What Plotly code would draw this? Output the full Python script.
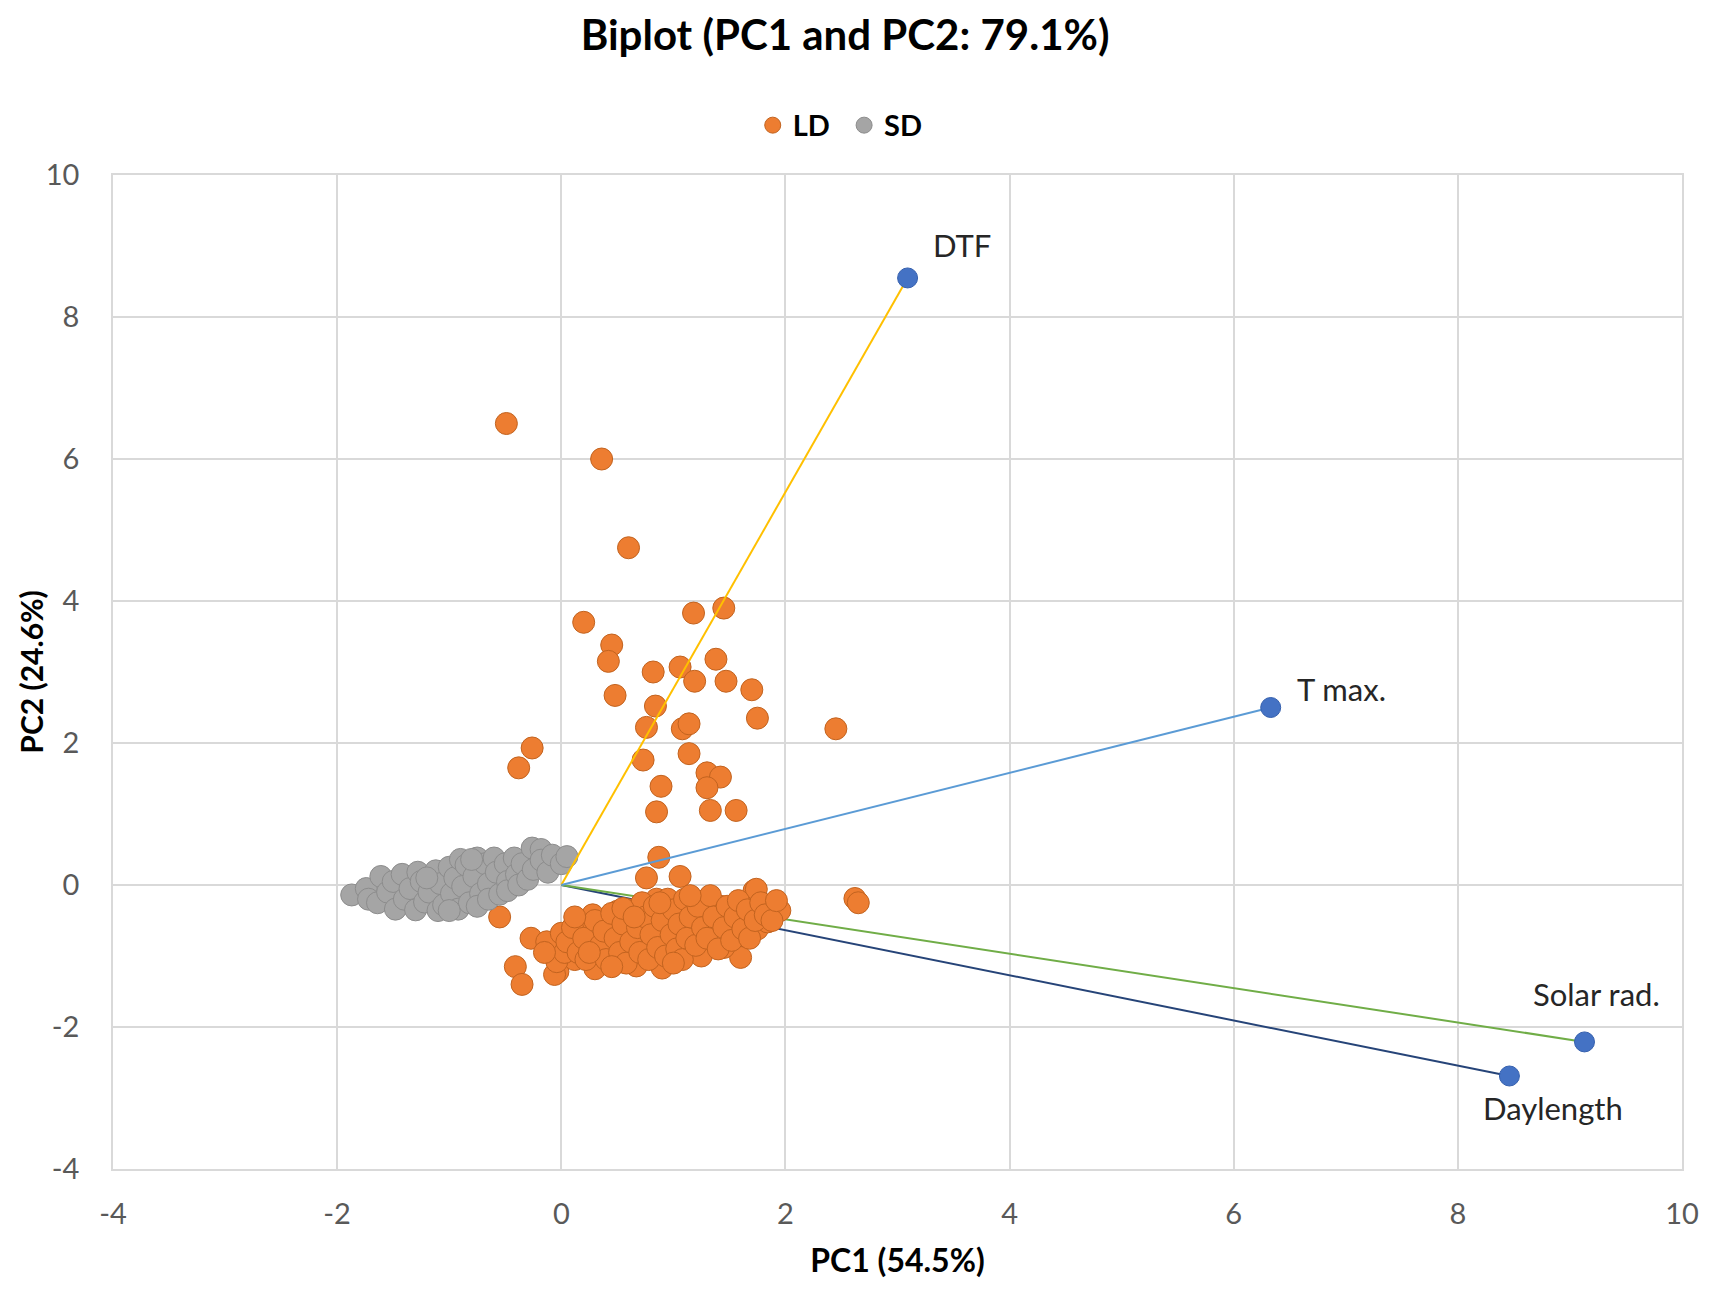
import plotly.graph_objects as go

# scores - long day (LD)
ld_x = [-0.49, 0.36, 0.60, 0.20, 0.45, 0.42, 0.48, 0.82, 1.06, 1.18, 1.45, 1.19, 1.38, 1.47, 1.70, 1.75,
        0.84, 0.76, 1.08, 1.14, 1.14, 0.73, 0.89, 0.85, 1.30, 1.42, 1.30, 1.33, 1.56, 2.45, -0.26, -0.38,
        0.87, 0.76, 1.06, 2.62, 2.65, -0.55, -0.27, -0.13, -0.41, -0.35,
        0.00, 0.17, 0.28, 0.50, 0.85, 1.30, 1.72, 1.88, 1.78, 1.42, -0.03, 0.12, 0.32, 0.65, 0.88, 1.18,
        1.25, 1.60, 1.75, -0.06, -0.04, 0.03, 0.30, 0.67, 0.90, 1.25, 1.45, 1.84, 1.95, 1.74,
        0.05, 0.10, 0.15, 0.20, 0.22, 0.30, 0.35, 0.38, 0.40, 0.45, 0.48, 0.52, 0.55, 0.58, 0.60, 0.62,
        0.68, 0.70, 0.72, 0.75, 0.78, 0.80, 0.83, 0.86, 0.90, 0.93, 0.95, 0.98, 1.00, 1.03, 1.05, 1.08,
        1.10, 1.12, 1.15, 1.20, 1.22, 1.26, 1.30, 1.33, 1.36, 1.40, 1.45, 1.48, 1.52, 1.55, 1.58, 1.62,
        1.66, 1.68, 1.73, 1.78, 1.82, 1.88, 1.92, 0.25, 0.12, -0.15, 0.45, 1.00, 0.55, 1.15, 0.88, 0.65]
ld_y = [6.50, 6.00, 4.75, 3.70, 3.38, 3.15, 2.67, 3.00, 3.07, 3.83, 3.90, 2.87, 3.18, 2.87, 2.75, 2.35,
        2.52, 2.22, 2.20, 2.27, 1.85, 1.76, 1.39, 1.03, 1.58, 1.52, 1.37, 1.05, 1.05, 2.20, 1.93, 1.65,
        0.39, 0.10, 0.12, -0.19, -0.25, -0.45, -0.75, -0.80, -1.15, -1.40,
        -0.68, -0.50, -0.42, -0.37, -0.20, -0.20, -0.08, -0.38, -0.25, -0.30, -1.22, -1.05, -1.12, -1.06, -1.10, -0.90,
        -0.85, -1.02, -0.62, -1.26, -1.08, -0.95, -1.18, -1.14, -1.17, -1.00, -0.88, -0.52, -0.36, -0.06,
        -0.80, -0.60, -0.95, -0.75, -1.05, -0.50, -0.85, -0.65, -1.05, -0.40, -0.75, -0.95, -0.55, -1.10, -0.35, -0.80,
        -0.60, -0.95, -0.25, -0.45, -1.05, -0.70, -0.30, -0.88, -0.50, -1.00, -0.20, -0.70, -0.35, -0.90, -0.55, -1.05,
        -0.20, -0.75, -0.45, -0.85, -0.30, -0.60, -0.75, -0.15, -0.45, -0.90, -0.60, -0.30, -0.78, -0.45, -0.22, -0.62,
        -0.35, -0.75, -0.50, -0.25, -0.42, -0.50, -0.22, -0.95, -0.45, -0.95, -1.15, -1.10, -0.33, -0.15, -0.25, -0.45]

# scores - short day (SD)
sd_x = [-1.87, -1.74, -1.72, -1.61, -1.64, -1.55, -1.50, -1.48, -1.42, -1.40, -1.35, -1.30, -1.28, -1.25,
        -1.22, -1.18, -1.12, -1.10, -1.08, -1.05, -1.00, -0.98, -0.95, -0.92, -0.90, -0.88, -0.85, -0.82,
        -0.78, -0.75, -0.72, -0.75, -0.68, -0.65, -0.65, -0.60, -0.58, -0.55, -0.50, -0.48, -0.48, -0.42,
        -0.40, -0.38, -0.35, -0.30, -0.26, -0.25, -0.18, -0.18, -0.12, -0.08, 0.00, 0.05, -1.00, -1.20, -0.80]
sd_y = [-0.14, -0.05, -0.20, 0.12, -0.25, -0.10, 0.05, -0.34, 0.15, -0.20, -0.05, -0.35, 0.18, 0.05,
        -0.24, -0.10, 0.20, -0.36, 0.02, -0.28, 0.25, -0.12, 0.10, -0.34, 0.36, -0.02, 0.28, -0.25,
        0.12, 0.38, -0.12, -0.30, 0.30, 0.02, -0.20, 0.38, 0.18, -0.13, 0.30, 0.05, -0.08, 0.38,
        0.15, 0.00, 0.30, 0.08, 0.52, 0.22, 0.50, 0.35, 0.18, 0.42, 0.30, 0.40, -0.36, 0.10, 0.36]

# loadings (vectors)
var_names = ["DTF", "T max.", "Solar rad.", "Daylength"]
var_x = [3.09, 6.33, 9.13, 8.46]
var_y = [8.55, 2.50, -2.21, -2.69]
var_colors = ["#FFC000", "#5B9BD5", "#70AD47", "#264478"]

tick_vals = [-4, -2, 0, 2, 4, 6, 8, 10]
tick_text = ["-4", "-2", "0", "2", "4", "6", "8", "10"]

FONT = "Lato"
GRID = "#D9D9D9"
fig = go.Figure()


def add_vector(i):
    fig.add_trace(go.Scatter(x=[0, var_x[i]], y=[0, var_y[i]], mode="lines",
                             line=dict(color=var_colors[i], width=2), showlegend=False, hoverinfo="skip"))


# daylength / solar rad lines sit under the points
add_vector(3)
add_vector(2)

fig.add_trace(go.Scatter(x=ld_x, y=ld_y, mode="markers", name="<b>LD</b>&nbsp;&#8202;",
                         marker=dict(size=22, color="#ED7D31", line=dict(color="#C2631F", width=1))))
fig.add_trace(go.Scatter(x=sd_x, y=sd_y, mode="markers", name="<b>SD</b>",
                         marker=dict(size=22, color="#A5A5A5", line=dict(color="#8C8C8C", width=1))))

add_vector(0)
add_vector(1)

fig.add_trace(go.Scatter(x=var_x, y=var_y, mode="markers", showlegend=False,
                         marker=dict(size=20, color="#4472C4", line=dict(color="#3560AE", width=1))))

label_pos = [("left", "middle", 23, 33), ("left", "middle", 24, 19),
             ("center", "middle", 12, 48), ("center", "middle", 44, -32)]
for i, n in enumerate(var_names):
    xa, ya, dx, dy = label_pos[i]
    fig.add_annotation(x=var_x[i], y=var_y[i], text=n, showarrow=False, xanchor=xa, yanchor=ya,
                       xshift=dx, yshift=dy, font=dict(family=FONT, size=31, color="#262626"))

# y axis title, placed by hand so it can sit closer to the edge than the margin allows
fig.add_annotation(text="<b>PC2 (24.6%)</b>", xref="paper", yref="paper", x=-0.0525, y=0.5,
                   xanchor="center", yanchor="middle", textangle=-90, showarrow=False,
                   font=dict(family=FONT, size=30, color="#000000"))

fig.update_layout(
    width=1700, height=1278,
    margin=dict(l=105, r=26, t=167, b=117),
    paper_bgcolor="white", plot_bgcolor="white",
    title=dict(text="<b>Biplot (PC1 and PC2: 79.1%)</b>", x=0.4924, xanchor="center",
               y=1 - 27 / 1278, yanchor="middle", font=dict(family=FONT, size=42, color="#000000")),
    legend=dict(orientation="h", x=0.4635, xanchor="center", y=1.05, yanchor="middle",
                font=dict(family=FONT, size=29, color="#000000"), itemsizing="trace",
                itemwidth=30),
    showlegend=True,
    font=dict(family=FONT),
)

fig.update_xaxes(range=[-4, 10], tickvals=tick_vals, ticktext=tick_text, showgrid=True, automargin=False,
                 gridcolor=GRID, gridwidth=1.5, showline=True, mirror=True, linecolor=GRID, linewidth=1.5,
                 zeroline=False, ticks="", ticklabelstandoff=18,
                 tickfont=dict(family=FONT, size=29, color="#595959"),
                 title=dict(text="<b>PC1 (54.5%)</b>", font=dict(family=FONT, size=32, color="#000000"),
                            standoff=21))
fig.update_yaxes(range=[-4, 10], tickvals=tick_vals, ticktext=tick_text, showgrid=True, automargin=False,
                 gridcolor=GRID, gridwidth=1.5, showline=True, mirror=True, linecolor=GRID, linewidth=1.5,
                 zeroline=False, ticks="", ticklabelstandoff=26,
                 tickfont=dict(family=FONT, size=29, color="#595959"))

fig.write_html("out.html")
